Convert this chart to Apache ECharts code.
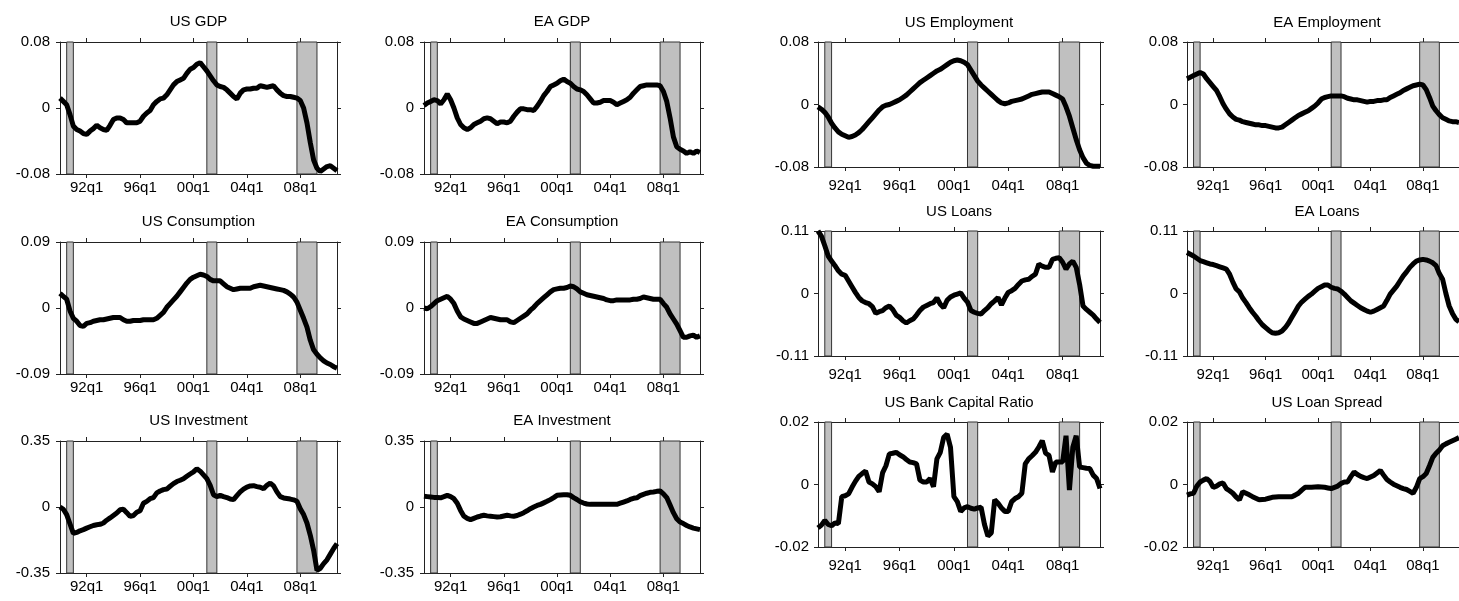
<!DOCTYPE html>
<html>
<head>
<meta charset="utf-8">
<script src="https://cdn.jsdelivr.net/npm/echarts@6/dist/echarts.min.js"></script>
<style>
html, body { margin: 0; padding: 0; background: #fff; }
#chart { width: 1459px; height: 601px; }
</style>
</head>
<body>
<div id="chart"></div>
<script>
// quarterly values, 1990q1 .. 2010q4 (one line per year)
const startYear = 1990;

const usGdp = [
  0.012, 0.008, 0.004, -0.008,
  -0.022, -0.026, -0.028, -0.031,
  -0.032, -0.028, -0.025, -0.021,
  -0.024, -0.026, -0.027, -0.021,
  -0.014, -0.012, -0.012, -0.014,
  -0.018, -0.018, -0.018, -0.018,
  -0.016, -0.010, -0.006, -0.003,
  0.004, 0.008, 0.011, 0.012,
  0.016, 0.022, 0.028, 0.032,
  0.034, 0.036, 0.042, 0.047,
  0.049, 0.053, 0.055, 0.050,
  0.045, 0.039, 0.033, 0.028,
  0.026, 0.025, 0.022, 0.018,
  0.014, 0.011, 0.018, 0.022,
  0.023, 0.023, 0.024, 0.024,
  0.027, 0.026, 0.025, 0.026,
  0.027, 0.022, 0.018, 0.015,
  0.014, 0.014, 0.013, 0.012,
  0.009, 0.000, -0.018, -0.042,
  -0.063, -0.073, -0.077, -0.074,
  -0.071, -0.070, -0.073, -0.076
];

const eaGdp = [
  0.003, 0.006, 0.008, 0.010,
  0.009, 0.005, 0.010, 0.017,
  0.010, 0.000, -0.012, -0.020,
  -0.024, -0.026, -0.024, -0.020,
  -0.018, -0.016, -0.013, -0.012,
  -0.013, -0.016, -0.019, -0.017,
  -0.017, -0.018, -0.016, -0.010,
  -0.005, -0.001, -0.001, -0.002,
  -0.002, -0.003, 0.002, 0.008,
  0.015, 0.020, 0.026, 0.028,
  0.030, 0.033, 0.035, 0.032,
  0.030, 0.026, 0.023, 0.022,
  0.020, 0.016, 0.011, 0.006,
  0.006, 0.007, 0.009, 0.009,
  0.009, 0.007, 0.004, 0.006,
  0.008, 0.010, 0.013, 0.018,
  0.022, 0.026, 0.027, 0.028,
  0.028, 0.028, 0.028, 0.027,
  0.020, 0.008, -0.012, -0.035,
  -0.047, -0.050, -0.052, -0.055,
  -0.053, -0.055, -0.052, -0.054
];

const usCons = [
  0.020, 0.016, 0.012, -0.004,
  -0.014, -0.018, -0.024, -0.025,
  -0.021, -0.020, -0.018, -0.017,
  -0.016, -0.016, -0.015, -0.014,
  -0.013, -0.013, -0.013, -0.016,
  -0.018, -0.018, -0.017, -0.017,
  -0.017, -0.016, -0.016, -0.016,
  -0.016, -0.014, -0.010, -0.006,
  0.001, 0.006, 0.011, 0.016,
  0.022, 0.028, 0.034, 0.039,
  0.042, 0.044, 0.046, 0.045,
  0.043, 0.039, 0.037, 0.037,
  0.037, 0.033, 0.029, 0.027,
  0.025, 0.026, 0.027, 0.027,
  0.027, 0.027, 0.029, 0.030,
  0.031, 0.030, 0.029, 0.028,
  0.027, 0.026, 0.025, 0.024,
  0.022, 0.019, 0.015, 0.008,
  -0.003, -0.014, -0.026, -0.044,
  -0.057, -0.063, -0.068, -0.072,
  -0.075, -0.077, -0.080, -0.082
];

const eaCons = [
  0.000, -0.001, 0.002, 0.006,
  0.010, 0.012, 0.014, 0.016,
  0.012, 0.006, -0.004, -0.012,
  -0.015, -0.017, -0.019, -0.021,
  -0.021, -0.019, -0.017, -0.015,
  -0.013, -0.014, -0.015, -0.016,
  -0.016, -0.016, -0.019, -0.020,
  -0.017, -0.014, -0.011, -0.008,
  -0.003, 0.001, 0.006, 0.010,
  0.014, 0.018, 0.022, 0.025,
  0.026, 0.027, 0.027, 0.028,
  0.030, 0.029, 0.026, 0.022,
  0.020, 0.018, 0.017, 0.016,
  0.015, 0.014, 0.013, 0.011,
  0.010, 0.010, 0.011, 0.011,
  0.011, 0.011, 0.011, 0.012,
  0.012, 0.013, 0.015, 0.014,
  0.013, 0.012, 0.012, 0.012,
  0.006, 0.001, -0.008, -0.015,
  -0.022, -0.031, -0.040, -0.040,
  -0.038, -0.037, -0.040, -0.038
];

const usInv = [
  0.000, -0.012, -0.040, -0.090,
  -0.140, -0.135, -0.126, -0.120,
  -0.112, -0.105, -0.098, -0.094,
  -0.092, -0.085, -0.070, -0.058,
  -0.045, -0.032, -0.015, -0.012,
  -0.030, -0.050, -0.045, -0.028,
  -0.020, 0.020, 0.030, 0.044,
  0.050, 0.075, 0.085, 0.092,
  0.095, 0.110, 0.124, 0.135,
  0.142, 0.150, 0.163, 0.175,
  0.186, 0.203, 0.190, 0.170,
  0.150, 0.115, 0.065, 0.055,
  0.062, 0.055, 0.050, 0.042,
  0.039, 0.060, 0.080, 0.095,
  0.106, 0.112, 0.113, 0.108,
  0.105, 0.097, 0.115, 0.127,
  0.112, 0.080, 0.055, 0.048,
  0.045, 0.042, 0.038, 0.030,
  -0.010, -0.040, -0.085, -0.150,
  -0.230, -0.336, -0.325, -0.300,
  -0.280, -0.250, -0.220, -0.194
];

const eaInv = [
  0.057, 0.055, 0.053, 0.051,
  0.050, 0.049, 0.055, 0.062,
  0.055, 0.044, 0.020, -0.018,
  -0.049, -0.060, -0.067, -0.060,
  -0.053, -0.048, -0.044, -0.047,
  -0.049, -0.051, -0.053, -0.052,
  -0.048, -0.044, -0.047, -0.049,
  -0.045, -0.038, -0.030, -0.020,
  -0.009, 0.000, 0.008, 0.014,
  0.022, 0.030, 0.039, 0.050,
  0.062, 0.064, 0.065, 0.065,
  0.062, 0.050, 0.040, 0.028,
  0.021, 0.016, 0.014, 0.014,
  0.014, 0.014, 0.014, 0.014,
  0.014, 0.014, 0.014, 0.020,
  0.026, 0.032, 0.040, 0.046,
  0.049, 0.060, 0.067, 0.073,
  0.078, 0.080, 0.083, 0.085,
  0.070, 0.050, 0.010, -0.030,
  -0.062, -0.080, -0.088, -0.098,
  -0.106, -0.112, -0.116, -0.120
];

const usEmp = [
  -0.003, -0.006, -0.010, -0.016,
  -0.024, -0.030, -0.035, -0.038,
  -0.040, -0.042, -0.041, -0.039,
  -0.036, -0.032, -0.027, -0.022,
  -0.017, -0.012, -0.007, -0.003,
  -0.001, 0.000, 0.002, 0.004,
  0.006, 0.009, 0.012, 0.016,
  0.020, 0.024, 0.028, 0.031,
  0.034, 0.037, 0.040, 0.043,
  0.045, 0.048, 0.051, 0.054,
  0.056, 0.057, 0.056, 0.054,
  0.051, 0.044, 0.037, 0.030,
  0.025, 0.021, 0.017, 0.013,
  0.009, 0.005, 0.002, 0.001,
  0.002, 0.004, 0.005, 0.006,
  0.007, 0.009, 0.011, 0.013,
  0.014, 0.015, 0.016, 0.016,
  0.016, 0.014, 0.012, 0.010,
  0.007, -0.003, -0.015, -0.030,
  -0.045, -0.058, -0.068, -0.075,
  -0.078, -0.079, -0.079, -0.079
];

const eaEmp = [
  0.033, 0.035, 0.037, 0.039,
  0.041, 0.039, 0.033, 0.028,
  0.023, 0.018, 0.010, 0.001,
  -0.006, -0.012, -0.016, -0.019,
  -0.020, -0.022, -0.023, -0.024,
  -0.025, -0.026, -0.026, -0.027,
  -0.027, -0.028, -0.029, -0.030,
  -0.030, -0.029, -0.026, -0.023,
  -0.020, -0.017, -0.014, -0.012,
  -0.010, -0.008, -0.005, -0.002,
  0.002, 0.007, 0.009, 0.010,
  0.011, 0.011, 0.011, 0.011,
  0.010, 0.008, 0.007, 0.006,
  0.006, 0.005, 0.004, 0.003,
  0.004, 0.004, 0.005, 0.005,
  0.006, 0.006, 0.009, 0.011,
  0.013, 0.015, 0.018, 0.020,
  0.022, 0.024, 0.025, 0.026,
  0.025, 0.019, 0.009, -0.002,
  -0.008, -0.013, -0.017, -0.019,
  -0.021, -0.022, -0.022, -0.023
];

const usLoans = [
  0.110, 0.101, 0.084, 0.066,
  0.057, 0.049, 0.040, 0.034,
  0.032, 0.022, 0.012, 0.002,
  -0.007, -0.013, -0.016, -0.018,
  -0.023, -0.035, -0.032, -0.030,
  -0.025, -0.022, -0.028, -0.038,
  -0.042, -0.048, -0.052, -0.048,
  -0.045, -0.038, -0.030, -0.024,
  -0.021, -0.018, -0.016, -0.008,
  -0.019, -0.025, -0.012, -0.006,
  -0.003, -0.001, 0.001, -0.008,
  -0.015, -0.030, -0.033, -0.035,
  -0.036, -0.030, -0.025, -0.018,
  -0.013, -0.007, -0.020, -0.008,
  0.002, 0.005, 0.009, 0.016,
  0.022, 0.024, 0.025, 0.030,
  0.034, 0.052, 0.048, 0.046,
  0.046, 0.060, 0.062, 0.063,
  0.055, 0.043, 0.052, 0.057,
  0.046, 0.016, -0.022, -0.028,
  -0.033, -0.038, -0.045, -0.051
];

const eaLoans = [
  0.072, 0.069, 0.066, 0.062,
  0.058, 0.056, 0.054, 0.052,
  0.051, 0.049, 0.047, 0.045,
  0.043, 0.034, 0.020, 0.008,
  0.003, -0.008, -0.016, -0.025,
  -0.033, -0.040, -0.048, -0.055,
  -0.060, -0.065, -0.069, -0.070,
  -0.069, -0.066, -0.060, -0.052,
  -0.042, -0.032, -0.022, -0.015,
  -0.010, -0.005, -0.001, 0.004,
  0.009, 0.012, 0.015, 0.015,
  0.011, 0.009, 0.008, 0.004,
  -0.001, -0.007, -0.013, -0.017,
  -0.021, -0.025, -0.028, -0.031,
  -0.033, -0.031, -0.028, -0.025,
  -0.022, -0.012, -0.001, 0.006,
  0.013, 0.022, 0.031, 0.038,
  0.046, 0.052, 0.057, 0.059,
  0.060, 0.059, 0.057, 0.054,
  0.049, 0.035, 0.025, 0.000,
  -0.022, -0.035, -0.045, -0.050
];

const usCapRatio = [
  -0.0139, -0.0130, -0.0115, -0.0128,
  -0.0132, -0.0123, -0.0125, -0.0039,
  -0.0036, -0.0030, -0.0009, 0.0010,
  0.0026, 0.0035, 0.0043, 0.0008,
  0.0002, -0.0007, -0.0023, 0.0037,
  0.0060, 0.0098, 0.0100, 0.0103,
  0.0095, 0.0089, 0.0080, 0.0072,
  0.0070, 0.0066, 0.0014, 0.0008,
  0.0008, 0.0019, -0.0007, 0.0082,
  0.0103, 0.0151, 0.0161, 0.0119,
  -0.0039, -0.0055, -0.0086, -0.0075,
  -0.0071, -0.0076, -0.0079, -0.0075,
  -0.0073, -0.0128, -0.0165, -0.0155,
  -0.0049, -0.0060, -0.0075, -0.0086,
  -0.0086, -0.0055, -0.0045, -0.0039,
  -0.0028, 0.0066, 0.0082, 0.0092,
  0.0103, 0.0120, 0.0140, 0.0100,
  0.0093, 0.0040, 0.0072, 0.0072,
  0.0072, 0.0156, -0.0018, 0.0119,
  0.0156, 0.0056, 0.0054, 0.0052,
  0.0051, 0.0030, 0.0019, -0.0013
];

const usSpread = [
  -0.0034, -0.0030, -0.0028, -0.0005,
  0.0008, 0.0014, 0.0019, 0.0010,
  -0.0009, -0.0005, 0.0002, 0.0005,
  -0.0013, -0.0020, -0.0028, -0.0040,
  -0.0049, -0.0023, -0.0028, -0.0033,
  -0.0039, -0.0044, -0.0049, -0.0048,
  -0.0047, -0.0044, -0.0041, -0.0040,
  -0.0039, -0.0039, -0.0039, -0.0039,
  -0.0039, -0.0034, -0.0028, -0.0018,
  -0.0009, -0.0009, -0.0009, -0.0008,
  -0.0007, -0.0008, -0.0009, -0.0011,
  -0.0013, -0.0009, -0.0005, 0.0003,
  0.0008, 0.0008, 0.0025, 0.0040,
  0.0032, 0.0026, 0.0022, 0.0019,
  0.0024, 0.0029, 0.0037, 0.0045,
  0.0030, 0.0016, 0.0008, 0.0001,
  -0.0004, -0.0009, -0.0013, -0.0016,
  -0.0022, -0.0028, -0.0009, 0.0019,
  0.0025, 0.0035, 0.0060, 0.0087,
  0.0100, 0.0110, 0.0124, 0.0130,
  0.0135, 0.0140, 0.0145, 0.0150
];

// recession bands (start, end) in years
const recessions = [[1990.5, 1991.0], [2001.0, 2001.75], [2007.75, 2009.25]];

const tickYears = [1992, 1996, 2000, 2004, 2008];
const tickLabels = ['92q1', '96q1', '00q1', '04q1', '08q1'];

const panelTitles = ['US GDP', 'EA GDP', 'US Consumption', 'EA Consumption', 'US Investment', 'EA Investment',
  'US Employment', 'EA Employment', 'US Loans', 'EA Loans', 'US Bank Capital Ratio', 'US Loan Spread'];
const panelSeries = [usGdp, eaGdp, usCons, eaCons, usInv, eaInv, usEmp, eaEmp, usLoans, eaLoans, usCapRatio, usSpread];
const panelLimits = [0.08, 0.08, 0.09, 0.09, 0.35, 0.35, 0.08, 0.08, 0.11, 0.11, 0.02, 0.02];

// layout: left figure (3x2) and right figure (3x2, slightly smaller, cut at the right edge)
const boxes = [];
[42, 242, 441].forEach(top => {
  boxes.push({ left: 60, top: top, width: 277, height: 132, xGap: 6, yGap: 10, tGap: 20 });
  boxes.push({ left: 424, top: top, width: 276, height: 132, xGap: 6, yGap: 10, tGap: 20 });
});
[42, 231, 422].forEach(top => {
  boxes.push({ left: 818, top: top, width: 282, height: 125, xGap: 11, yGap: 9, tGap: 19 });
  boxes.push({ left: 1187, top: top, width: 280, height: 125, xGap: 11, yGap: 9, tGap: 19 });
});

const font = '"Liberation Sans", Arial, sans-serif';
const axisCol = '#222';

const grids = [], xAxes = [], yAxes = [], series = [], titles = [];

boxes.forEach((b, i) => {
  const lim = panelLimits[i];
  const yTicks = [-lim, 0, lim];
  grids.push({ left: b.left, top: b.top, width: b.width, height: b.height });

  const xBase = {
    gridIndex: i, type: 'value', min: startYear, max: 2010.75,
    axisLine: { show: true, onZero: false, lineStyle: { color: axisCol, width: 1 } },
    axisTick: { show: true, inside: false, length: 4, customValues: tickYears, lineStyle: { color: axisCol } },
    splitLine: { show: false }
  };
  xAxes.push(Object.assign({}, xBase, {
    position: 'bottom',
    axisLabel: {
      show: true, customValues: tickYears, margin: b.xGap, fontSize: 15, color: '#000', fontFamily: font,
      formatter: v => tickLabels[tickYears.indexOf(Math.round(v))]
    }
  }));
  xAxes.push(Object.assign({}, xBase, { position: 'top', axisLabel: { show: false } }));

  const yBase = {
    gridIndex: i, type: 'value', min: -lim, max: lim, interval: lim,
    axisLine: { show: true, onZero: false, lineStyle: { color: axisCol, width: 1 } },
    axisTick: { show: true, inside: false, length: 4, customValues: yTicks, lineStyle: { color: axisCol } },
    splitLine: { show: false }
  };
  yAxes.push(Object.assign({}, yBase, {
    position: 'left',
    axisLabel: {
      show: true, customValues: yTicks, margin: b.yGap, fontSize: 15, color: '#000', fontFamily: font,
      formatter: v => (Math.abs(v) < 1e-9 ? '0' : String(v))
    }
  }));
  yAxes.push(Object.assign({}, yBase, { position: 'right', axisLabel: { show: false } }));

  series.push({
    type: 'line',
    xAxisIndex: 2 * i,
    yAxisIndex: 2 * i,
    data: panelSeries[i].map((v, k) => [startYear + k / 4, v]),
    showSymbol: false,
    lineStyle: { color: '#000', width: 5 },
    silent: true,
    markArea: {
      silent: true,
      itemStyle: { color: '#c0c0c0', borderColor: '#333', borderWidth: 1 },
      data: recessions.map(r => [{ xAxis: r[0] }, { xAxis: r[1] }])
    }
  });

  titles.push({
    type: 'text',
    x: b.left + b.width / 2,
    y: b.top - b.tGap,
    style: {
      text: panelTitles[i], fill: '#000', fontSize: 15, fontFamily: font,
      align: 'center', verticalAlign: 'middle', textAlign: 'center', textVerticalAlign: 'middle'
    }
  });
});

const chart = echarts.init(document.getElementById('chart'));
chart.setOption({
  animation: false,
  backgroundColor: '#fff',
  grid: grids,
  xAxis: xAxes,
  yAxis: yAxes,
  series: series,
  graphic: titles
});
</script>
</body>
</html>
